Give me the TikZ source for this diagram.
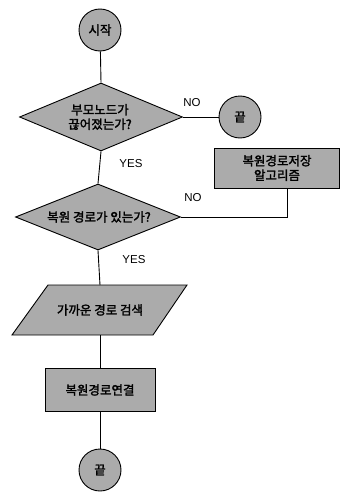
\documentclass[tikz,border=0pt]{standalone}
\usepackage{fontspec}
\setmainfont{Liberation Sans}
\newfontfamily\kr[FakeBold=2]{Noto Sans CJK KR}
\usetikzlibrary{shapes.geometric}

\tikzset{
  flowline/.style={draw=black, line width=0.9pt},
  shade/.style={fill=gray!66, draw=black, line width=0.9pt},
  hangul/.style={font=\kr\fontsize{12.5}{14.5}\selectfont},
  terminal/.style={shade, circle, minimum size=42pt, inner sep=0pt, hangul},
  decision/.style={shade, diamond, inner sep=0pt},
  process/.style={shade, rectangle, inner sep=0pt, hangul, align=center},
  label/.style={hangul, align=center, inner sep=0pt},
  answer/.style={font=\fontsize{11.5}{13}\selectfont, inner sep=0pt}
}

\begin{document}
\begin{tikzpicture}[x=1pt, y=-1pt]
  \useasboundingbox (0,0) rectangle (350,495);

  % terminals
  \node[terminal] (start) at (100,30) {시작};
  \node[terminal] (stop1) at (240,117) {끝};
  \node[terminal] (stop2) at (100,470) {끝};

  % decisions
  \node[decision, minimum width=163pt, minimum height=68pt] (q1) at (101,117) {};
  \node[label] (q1t) at (100,117) {부모노드가\\끊어졌는가?};
  \node[decision, minimum width=165pt, minimum height=66pt] (q2) at (98,217) {};
  \node[label] (q2t) at (99,217) {복원 경로가 있는가?};

  % process boxes
  \node[process, minimum width=125pt, minimum height=40pt] (save) at (277,168) {복원경로저장\\알고리즘};
  \node[process, minimum width=110pt, minimum height=43pt] (link) at (100,390) {복원경로연결};

  % search (input/output parallelogram)
  \coordinate (srch-n) at (100,285);
  \coordinate (srch-s) at (100,335);
  \path[shade] (48,285) -- (187,285) -- (153,335) -- (12,335) -- cycle;
  \node[label] (srch) at (100,310) {가까운 경로 검색};

  % connectors
  \draw[flowline] (start) -- (q1.north);
  \draw[flowline] (q1.east) -- (stop1);
  \draw[flowline] (q1.south) -- (q2.north);
  \coordinate (turn) at (287,217);
  \draw[flowline] (turn |- save.south) -- (turn) -- (q2.east);
  \draw[flowline] (q2.south) -- (srch-n);
  \draw[flowline] (srch-s) -- (link.north);
  \draw[flowline] (link.south) -- (stop2);

  % branch labels
  \node[answer] (no1) at (192,103) {NO};
  \node[answer] (yes1) at (131,164) {YES};
  \node[answer] (no2) at (193,198) {NO};
  \node[answer] (yes2) at (134,260) {YES};
\end{tikzpicture}
\end{document}
